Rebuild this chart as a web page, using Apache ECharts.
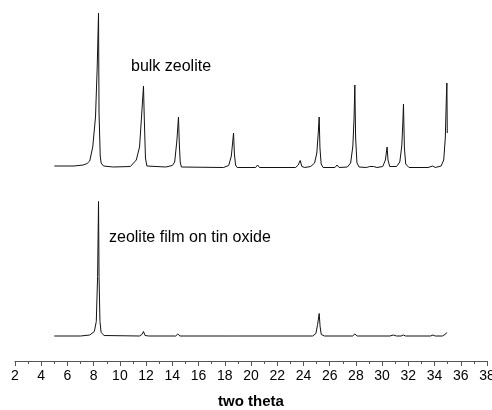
<!DOCTYPE html>
<html>
<head>
<meta charset="utf-8">
<script src="https://cdn.jsdelivr.net/npm/echarts@6/dist/echarts.min.js"></script>
<style>
    html, body { margin: 0; padding: 0; background: #fff; }
    #chart { width: 492px; height: 410px; }
</style>
</head>
<body>
<div id="chart"></div>
<script>
// diffraction patterns: [two theta, intensity above own baseline]
var bulkPattern = [
    [5.0, 2], [6.5, 2], [7.2, 3], [7.5, 4.5], [7.7, 7], [7.93, 21], [8.14, 51], [8.27, 101],
    [8.37, 155], [8.41, 55], [8.5, 12], [8.57, 5], [8.75, 2], [9.5, 1], [10.8, 1.5],
    [11.25, 8], [11.5, 21], [11.65, 51], [11.8, 82], [11.86, 50], [11.95, 10], [12.06, 2],
    [13.5, 1], [14.0, 2.5], [14.18, 6], [14.35, 28], [14.47, 51], [14.53, 25], [14.6, 6], [14.69, 1],
    [17.9, 0.5], [18.3, 2.5], [18.5, 12], [18.67, 35], [18.73, 15], [18.82, 3], [18.95, 0.5],
    [20.35, 0.5], [20.5, 3], [20.65, 0.5], [23.4, 0.5], [23.6, 3], [23.75, 7.5], [23.88, 1.5],
    [24.1, 0.5], [24.55, 1.5], [24.85, 5], [25.02, 15], [25.13, 35], [25.2, 51], [25.26, 20],
    [25.35, 4], [25.5, 0.5], [26.4, 0.5], [26.57, 3], [26.72, 0.5], [27.35, 1], [27.6, 5],
    [27.77, 22], [27.86, 50], [27.92, 83], [27.98, 30], [28.08, 5], [28.25, 1], [28.8, 0.5],
    [29.05, 1.5], [29.2, 0.5], [29.35, 1.5], [29.6, 0.5], [30.05, 1.5], [30.25, 8], [30.38, 21],
    [30.45, 8], [30.58, 1.5], [31.1, 1.5], [31.35, 6], [31.5, 22], [31.58, 45], [31.63, 64],
    [31.7, 20], [31.8, 4], [32.05, 0.5], [33.5, 0.5], [33.86, 2], [34.05, 0.5], [34.5, 2],
    [34.7, 8], [34.82, 30], [34.9, 70], [34.94, 85], [34.97, 35]
];
var filmPattern = [
    [5.0, 0.5], [7.0, 0.5], [7.7, 1.5], [8.05, 5], [8.2, 15], [8.3, 60], [8.37, 135], [8.41, 60],
    [8.48, 15], [8.57, 4], [8.8, 1], [11.5, 0.5], [11.68, 2], [11.8, 5], [11.92, 1], [12.2, 0.5],
    [14.25, 0.5], [14.42, 2.5], [14.58, 0.5], [18.45, 0.5], [18.6, 2], [18.75, 0.5],
    [24.7, 0.5], [24.95, 3], [25.08, 12], [25.2, 23], [25.27, 10], [25.36, 2], [25.6, 0.5],
    [27.75, 0.5], [27.92, 2.5], [28.1, 0.5], [30.6, 0.5], [30.85, 1.5], [31.1, 0.5],
    [31.45, 0.5], [31.62, 1.5], [31.8, 0.5], [33.7, 0.5], [33.88, 1.5], [34.05, 0.5],
    [34.6, 0.5], [34.85, 2.5], [34.93, 4], [34.97, 2.5]
];
var seriesNames = ['bulk zeolite', 'zeolite film on tin oxide'];

// vertical stacking of the two traces
var bulkOffset = 193;
var filmOffset = 24.5;

function shift(pattern, off) {
    return pattern.map(function (p) {
        return [p[0], p[1] + off];
    });
}

var font = 'Arial, "Liberation Sans", sans-serif';
var myChart = echarts.init(document.getElementById('chart'));
var option = {
    animation: false,
    grid: { left: 15, right: 5, top: 11, bottom: 49, containLabel: false, outerBoundsMode: 'none' },
    xAxis: {
        type: 'value',
        min: 2,
        max: 38,
        interval: 2,
        name: 'two theta',
        nameLocation: 'middle',
        nameGap: 33,
        nameTextStyle: { fontFamily: font, fontSize: 15, fontWeight: 'bold', color: '#000' },
        axisLine: { lineStyle: { color: '#555', width: 1 } },
        axisTick: { length: 5, lineStyle: { color: '#555' } },
        minorTick: { show: true, splitNumber: 2, length: 3, lineStyle: { color: '#555' } },
        splitLine: { show: false },
        axisLabel: { fontFamily: font, fontSize: 14, color: '#000', margin: 8, hideOverlap: false }
    },
    yAxis: {
        type: 'value',
        min: 0,
        max: 350,
        show: false
    },
    series: [{
        name: seriesNames[0],
        type: 'line',
        showSymbol: false,
        lineStyle: { color: '#111', width: 1 },
        data: shift(bulkPattern, bulkOffset)
    }, {
        name: seriesNames[1],
        type: 'line',
        showSymbol: false,
        lineStyle: { color: '#111', width: 1 },
        data: shift(filmPattern, filmOffset)
    }],
    graphic: [{
        type: 'text',
        left: 131,
        top: 59,
        style: { text: seriesNames[0], font: '16px ' + font, fill: '#000' }
    }, {
        type: 'text',
        left: 109,
        top: 230,
        style: { text: seriesNames[1], font: '16px ' + font, fill: '#000' }
    }]
};
myChart.setOption(option);
</script>
</body>
</html>
